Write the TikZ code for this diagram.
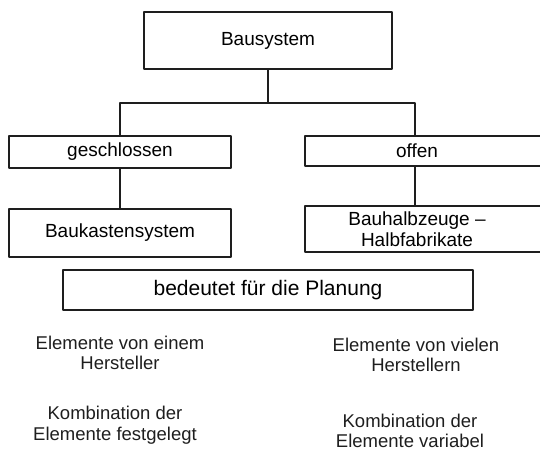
\documentclass[tikz,border=0pt]{standalone}
\usepackage{fontspec}
\setmainfont{Liberation Sans}
\usetikzlibrary{calc,positioning}
\definecolor{boxgray}{RGB}{30,30,30}

\begin{document}
\begin{tikzpicture}[x=1pt,y=1pt,line cap=round,line join=round,
		box/.style={draw=boxgray,line width=1.5pt,inner sep=0pt,align=center,font=\fontsize{19}{21}\selectfont},
		openbox/.style={box,draw=none,outer sep=0pt},
		note/.style={inner sep=0pt,align=center,text=boxgray,font=\fontsize{18.5}{20.5}\selectfont}]
		\useasboundingbox (0,0) rectangle (540,451);
		% tree
		\node[box,minimum width=248,minimum height=57] (sys) at (268,410.5) {Bausystem};
		\node[box,minimum width=222,minimum height=32] (closed) at (120,299) {geschlossen};
		\node[openbox,minimum width=224,minimum height=30] (open) at (417,300) {offen};
		\node[box,minimum width=222,minimum height=48] (kit) at (120,218) {Baukastensystem};
		\node[openbox,minimum width=224,minimum height=46] (half) at (417,222) {Bauhalbzeuge --\\Halbfabrikate};
		% right side cut off at the page edge
		\draw[boxgray,line width=1.5pt,line cap=butt] ($(open.north east)+(14,0)$) -- (open.north west) -- (open.south west) -- ($(open.south east)+(14,0)$);
		\draw[boxgray,line width=1.5pt,line cap=butt] ($(half.north east)+(14,0)$) -- (half.north west) -- (half.south west) -- ($(half.south east)+(14,0)$);
		\coordinate (fork) at (268,348);
		\draw[boxgray,line width=1.5pt] (sys.south) -- (fork);
		\draw[boxgray,line width=1.5pt] (closed.north) |- (fork) -| ([xshift=-2]open.north);
		\draw[boxgray,line width=1.5pt] (closed) -- (kit);
		\draw[boxgray,line width=1.5pt] ([xshift=-2]open.south) -- ([xshift=-2]half.north);
		% planning
		\node[box,minimum width=410,minimum height=40,font=\fontsize{21}{24}\selectfont] (plan) at (268,161) {bedeutet für die Planung};
		\node[note] (one) at (120,98) {Elemente von einem\\Hersteller};
		\node[note] (many) at (416,96) {Elemente von vielen\\Herstellern};
		\node[note] (fixed) at (115,26) {Kombination der\\Elemente festgelegt};
		\node[note] (var) at (410,20) {Kombination der\\Elemente variabel};
\end{tikzpicture}
\end{document}
